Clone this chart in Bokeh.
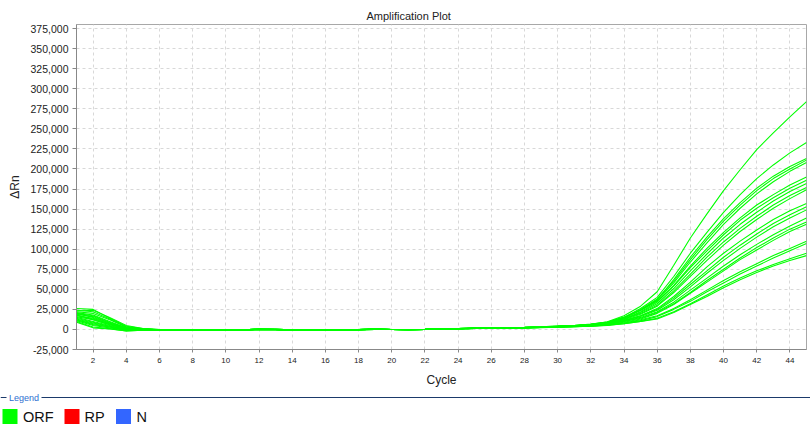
from bokeh.plotting import figure
from bokeh.models import Range1d, FixedTicker, NumeralTickFormatter
from bokeh.embed import file_html
from bokeh.resources import INLINE
from bokeh.core.properties import value

# ---------------- data (ΔRn in thousands, cycles 1..45) ----------------
cycles = list(range(1, 46))

well_01 = [18, 12, 6, 1, 0.5, -0.3, -0.6, -0.4, -0.7, -1.0, -0.5, 0.3, 0.1, -0.5, -0.9, -0.6, -0.3, -0.1, 0.4, 0.0,
           -0.1, 0.1, 0.6, 1.1, 1.6, 2.0, 2.3, 2.6, 3.3, 4.2, 5.0, 6.5, 9.5, 17, 29, 47, 80, 114, 144, 173, 199, 224, 245, 265, 284]
well_02 = [26, 25, 14, 4, 1.0, -0.2, -0.5, -0.3, -0.6, -0.9, -0.4, 0.4, 0.2, -0.4, -0.8, -0.5, -0.2, 0.0, 0.5, 0.0,
           -0.2, 0.0, 0.5, 1.0, 1.5, 1.8, 2.1, 2.4, 3.0, 3.8, 4.6, 6.0, 8.5, 15, 26, 40, 66, 95, 121, 146, 168, 188, 205, 220, 233]
well_03 = [20, 17, 9, 2, 0.2, -0.8, -1.0, -0.8, -1.0, -1.2, -0.8, 0.0, -0.2, -0.8, -1.2, -0.8, -0.5, -0.3, 0.2, 0.0,
           -0.3, -0.1, 0.4, 0.9, 1.3, 1.6, 1.9, 2.2, 2.8, 3.6, 4.4, 5.8, 8.4, 14, 24, 37, 62, 90, 115, 138, 158, 176, 191, 203, 213]
well_04 = [12, 6, 3, -1, -0.5, -1.0, -1.2, -0.9, -1.1, -1.3, -0.9, -0.1, -0.3, -0.9, -1.3, -0.9, -0.6, -0.4, 0.1, 0.0,
           -0.2, 0.1, 0.6, 1.1, 1.5, 1.9, 2.2, 2.5, 3.1, 3.9, 4.8, 6.2, 8.8, 15, 25, 38, 60, 87, 112, 135, 155, 173, 188, 200, 211]
well_05 = [15, 10, 5, 0, -0.2, -0.7, -0.9, -0.6, -0.8, -1.0, -0.6, 0.2, 0.0, -0.6, -1.0, -0.7, -0.4, -0.2, 0.3, 0.0,
           -0.1, 0.2, 0.7, 1.2, 1.6, 2.0, 2.3, 2.6, 3.2, 4.0, 4.9, 6.4, 9.0, 15, 24, 36, 58, 84, 108, 131, 151, 169, 184, 197, 208]
well_06 = [22, 20, 12, 3, 0.8, -0.3, -0.6, -0.4, -0.6, -0.9, -0.5, 0.3, 0.1, -0.5, -0.9, -0.6, -0.3, -0.1, 0.4, 0.0,
           -0.2, 0.0, 0.5, 0.9, 1.3, 1.7, 2.0, 2.3, 2.9, 3.6, 4.3, 5.5, 7.8, 13, 22, 34, 55, 79, 101, 121, 139, 155, 168, 180, 190]
well_07 = [10, 3, 1, -2, -1.0, -1.3, -1.4, -1.1, -1.2, -1.4, -1.0, -0.2, -0.4, -1.0, -1.4, -1.0, -0.7, -0.5, 0.0, 0.0,
           -0.1, 0.2, 0.7, 1.2, 1.7, 2.1, 2.4, 2.7, 3.3, 4.1, 5.0, 6.6, 9.2, 15, 24, 35, 54, 77, 98, 118, 136, 151, 164, 176, 186]
well_08 = [17, 14, 7, 1, 0.0, -0.6, -0.8, -0.5, -0.7, -1.0, -0.6, 0.2, 0.0, -0.6, -1.0, -0.7, -0.4, -0.2, 0.3, 0.0,
           -0.2, 0.0, 0.5, 1.0, 1.4, 1.8, 2.1, 2.4, 3.0, 3.7, 4.5, 5.8, 8.0, 13, 21, 32, 51, 73, 94, 114, 131, 146, 160, 172, 182]
well_09 = [13, 8, 4, 0, -0.3, -0.9, -1.1, -0.8, -0.9, -1.1, -0.7, 0.1, -0.1, -0.7, -1.1, -0.8, -0.5, -0.3, 0.2, 0.0,
           -0.2, 0.1, 0.6, 1.0, 1.4, 1.8, 2.1, 2.4, 3.0, 3.8, 4.6, 5.9, 8.1, 13, 20, 30, 48, 69, 90, 109, 126, 141, 155, 167, 177]
well_10 = [24, 22, 13, 3, 0.6, -0.4, -0.7, -0.4, -0.6, -0.9, -0.5, 0.3, 0.1, -0.5, -0.9, -0.6, -0.3, -0.1, 0.4, 0.0,
           -0.2, 0.0, 0.4, 0.9, 1.3, 1.6, 1.9, 2.2, 2.7, 3.4, 4.1, 5.3, 7.4, 12, 19, 29, 46, 66, 86, 105, 122, 137, 151, 163, 174]
well_11 = [19, 16, 8, 1, 0.1, -0.6, -0.9, -0.6, -0.8, -1.0, -0.6, 0.2, 0.0, -0.6, -1.0, -0.7, -0.4, -0.2, 0.3, 0.0,
           -0.2, 0.0, 0.5, 0.9, 1.3, 1.6, 1.9, 2.2, 2.7, 3.3, 4.0, 5.1, 7.0, 11, 17, 26, 41, 59, 78, 95, 110, 124, 137, 148, 157]
well_12 = [11, 5, 2, -1, -0.6, -1.1, -1.2, -0.9, -1.0, -1.2, -0.8, 0.0, -0.2, -0.8, -1.2, -0.9, -0.6, -0.4, 0.1, 0.0,
           -0.1, 0.2, 0.7, 1.1, 1.5, 1.9, 2.2, 2.5, 3.0, 3.7, 4.4, 5.6, 7.5, 11, 17, 25, 39, 56, 73, 90, 105, 119, 132, 143, 153]
well_13 = [16, 12, 6, 1, 0.2, -0.5, -0.8, -0.5, -0.7, -1.0, -0.6, 0.2, 0.0, -0.6, -1.0, -0.7, -0.4, -0.2, 0.3, 0.0,
           -0.2, 0.0, 0.5, 0.9, 1.3, 1.7, 2.0, 2.3, 2.8, 3.5, 4.2, 5.3, 7.1, 11, 16, 24, 37, 53, 70, 86, 101, 115, 128, 139, 149]
well_14 = [21, 18, 10, 2, 0.4, -0.4, -0.7, -0.4, -0.6, -0.9, -0.5, 0.3, 0.1, -0.5, -0.9, -0.6, -0.3, -0.1, 0.4, 0.0,
           -0.2, 0.0, 0.4, 0.8, 1.2, 1.5, 1.8, 2.1, 2.6, 3.2, 3.9, 4.9, 6.6, 10, 15, 22, 34, 49, 64, 79, 93, 106, 118, 129, 139]
well_15 = [14, 9, 4, 0, -0.3, -0.8, -1.0, -0.7, -0.9, -1.1, -0.7, 0.1, -0.1, -0.7, -1.1, -0.8, -0.5, -0.3, 0.2, 0.0,
           -0.1, 0.1, 0.6, 1.0, 1.4, 1.7, 2.0, 2.3, 2.8, 3.4, 4.1, 5.0, 6.6, 10, 14, 21, 32, 46, 61, 75, 89, 102, 114, 125, 134]
well_16 = [23, 24, 15, 5, 1.2, 0.0, -0.4, -0.2, -0.5, -0.8, -0.4, 0.4, 0.2, -0.4, -0.8, -0.5, -0.2, 0.0, 0.5, 0.0,
           -0.2, 0.0, 0.4, 0.8, 1.2, 1.5, 1.8, 2.1, 2.5, 3.1, 3.7, 4.6, 6.2, 9, 13, 20, 31, 45, 59, 73, 87, 99, 111, 122, 131]
well_17 = [12, 7, 3, -1, -0.5, -1.0, -1.1, -0.8, -1.0, -1.2, -0.8, 0.0, -0.2, -0.8, -1.2, -0.8, -0.5, -0.3, 0.1, 0.0,
           -0.1, 0.1, 0.5, 0.9, 1.3, 1.6, 1.9, 2.1, 2.5, 3.0, 3.6, 4.4, 5.7, 8, 12, 17, 26, 37, 49, 61, 72, 82, 92, 101, 110]
well_18 = [18, 13, 7, 1, 0.1, -0.5, -0.8, -0.5, -0.7, -1.0, -0.6, 0.2, 0.0, -0.6, -1.0, -0.7, -0.4, -0.2, 0.3, 0.0,
           -0.2, 0.0, 0.4, 0.8, 1.2, 1.5, 1.8, 2.0, 2.4, 2.9, 3.5, 4.3, 5.5, 8, 11, 16, 25, 35, 47, 58, 69, 79, 89, 98, 107]
well_19 = [20, 15, 8, 2, 0.3, -0.4, -0.7, -0.4, -0.6, -0.9, -0.5, 0.3, 0.1, -0.5, -0.9, -0.6, -0.3, -0.1, 0.3, 0.0,
           -0.2, 0.0, 0.4, 0.8, 1.1, 1.4, 1.7, 1.9, 2.3, 2.8, 3.3, 4.0, 5.1, 7, 10, 14, 22, 32, 43, 54, 64, 73, 81, 88, 95]
well_20 = [9, 2, 0.5, -2, -0.9, -1.2, -1.3, -1.0, -1.1, -1.3, -0.9, -0.1, -0.3, -0.9, -1.3, -0.9, -0.6, -0.4, 0.0, 0.0,
           -0.1, 0.1, 0.5, 0.9, 1.2, 1.5, 1.8, 2.0, 2.4, 2.9, 3.4, 4.1, 5.2, 7, 10, 13, 21, 31, 41, 52, 62, 71, 79, 86, 92]

orf_wells = [well_01, well_02, well_03, well_04, well_05, well_06, well_07, well_08, well_09, well_10,
             well_11, well_12, well_13, well_14, well_15, well_16, well_17, well_18, well_19, well_20]

x_ticks = [2, 4, 6, 8, 10, 12, 14, 16, 18, 20, 22, 24, 26, 28, 30, 32, 34, 36, 38, 40, 42, 44]
y_ticks = [-25000, 0, 25000, 50000, 75000, 100000, 125000, 150000, 175000, 200000,
           225000, 250000, 275000, 300000, 325000, 350000, 375000]

legend_labels = ["ORF", "RP", "N"]
legend_colors = ["#00ff00", "#ff0000", "#3366ff"]

# ---------------- styling ----------------
FONT = "Liberation Sans"
ORF_COLOR = "#00ff00"

p = figure(width=810, height=390,
           x_range=Range1d(1, 45), y_range=Range1d(-25000, 380000),
           output_backend="svg", toolbar_location=None,
           min_border_left=76, min_border_right=4, min_border_top=24, min_border_bottom=41,
           title="Amplification Plot")
p.title.text_font = FONT
p.title.text_font_size = "11px"
p.title.text_font_style = "normal"
p.title.text_color = "#222222"
p.title.align = "left"
p.title.offset = 290
p.title.standoff = 6

p.outline_line_color = "#a8a8a8"
p.background_fill_color = "white"
p.border_fill_color = "white"

xs = [cycles for _ in orf_wells]
ys = [[v * 1000 for v in w] for w in orf_wells]
p.multi_line(xs, ys, line_color=ORF_COLOR, line_width=1.1)

p.xaxis.ticker = FixedTicker(ticks=x_ticks)
p.yaxis.ticker = FixedTicker(ticks=y_ticks)
p.yaxis.formatter = NumeralTickFormatter(format="0,0")

p.xaxis.axis_label = "Cycle"
p.yaxis.axis_label = "ΔRn"

for ax in (p.xaxis[0], p.yaxis[0]):
    ax.axis_line_color = "#888888"
    ax.major_tick_line_color = "#888888"
    ax.minor_tick_line_color = None
    ax.major_tick_in = 0
    ax.major_label_text_font = FONT
    ax.major_label_text_color = "#222222"
    ax.axis_label_text_font = FONT
    ax.axis_label_text_font_style = "normal"
    ax.axis_label_text_font_size = "12px"
    ax.axis_label_text_color = "#222222"

p.yaxis.major_tick_out = 4
p.yaxis.major_label_standoff = 4
p.yaxis.major_label_text_font_size = "10.5px"
p.yaxis.axis_label_standoff = 6

p.xaxis.major_tick_out = 3
p.xaxis.major_label_standoff = 5
p.xaxis.major_label_text_font_size = "8px"
p.xaxis.axis_label_standoff = 7

p.grid.grid_line_color = "#d8d8d8"
p.grid.grid_line_dash = "3 3"
p.grid.grid_line_width = 1

# ---------------- legend strip (separate root) ----------------
lg = figure(width=810, height=35, x_range=Range1d(0, 810), y_range=Range1d(35, 0),
            output_backend="svg", toolbar_location=None, min_border=0,
            x_axis_location=None, y_axis_location=None)
lg.outline_line_color = None
lg.grid.visible = False

lg.segment(x0=[0, 41], y0=[7, 7], x1=[6, 810], y1=[7, 7], line_color="#1b3a6b", line_width=1.2)
lg.text(x=[8.5], y=[7], text=["Legend"], text_font=value(FONT), text_font_size="9px",
        text_color="#2f6fd0", text_baseline="middle", text_align="left")

sq_x = [9.5, 71.5, 123]
lab_x = [22.5, 84, 136]
lg.rect(x=sq_x, y=[26, 26, 26], width=15, height=15, fill_color=legend_colors, line_color=None)
lg.text(x=lab_x, y=[26.5, 26.5, 26.5], text=legend_labels, text_font=value(FONT), text_font_size="14.5px",
        text_color="#111111", text_baseline="middle", text_align="left")

open("out.html", "w").write(file_html([p, lg], INLINE))
